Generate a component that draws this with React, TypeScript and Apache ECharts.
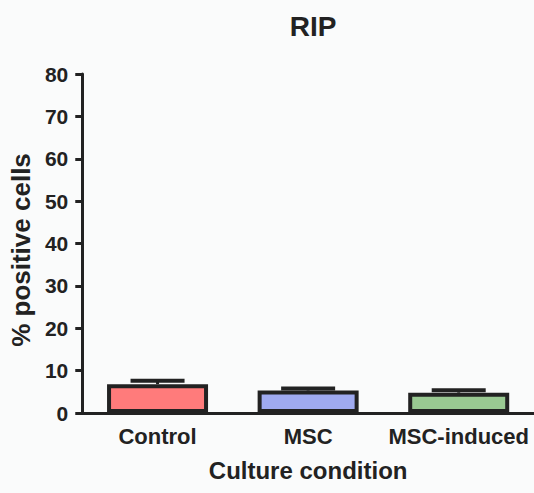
import React, { useEffect, useRef } from "react";
import * as echarts from "echarts";

const title = "RIP";
const categories = ["Control", "MSC", "MSC-induced"];
const means = [6.8, 5.3, 4.8];
const errors = [0.8, 0.5, 0.55];
const barColors = ["#ff7b7b", "#9faaf0", "#99c992"];
const yMin = 0;
const yMax = 80;
const yInterval = 10;
const xName = "Culture condition";
const yName = "% positive cells";

const FONT = "'Liberation Sans', Arial, Helvetica, sans-serif";
const INK = "#222222";

export default function App() {
  const ref = useRef<HTMLDivElement>(null);
  useEffect(() => {
    if (!ref.current) return;
    const chart = echarts.init(ref.current, undefined, { renderer: "svg" });
    chart.setOption({
      animation: false,
      backgroundColor: "#fafbfb",
      textStyle: { fontFamily: FONT },
      title: {
        text: title,
        left: 308,
        textAlign: "center",
        top: 7,
        textStyle: { fontFamily: FONT, fontSize: 28, fontWeight: "bold", color: INK },
      },
      grid: { left: 82, right: 0, top: 74, bottom: 80, containLabel: false },
      xAxis: {
        type: "category",
        data: categories,
        name: xName,
        nameLocation: "middle",
        nameGap: 45,
        nameTextStyle: { fontFamily: FONT, fontSize: 24, fontWeight: "bold", color: INK },
        axisLine: { lineStyle: { color: INK, width: 3 } },
        axisTick: { alignWithLabel: true, length: 11, lineStyle: { color: INK, width: 3 } },
        axisLabel: { margin: 12, fontFamily: FONT, fontSize: 22, fontWeight: "bold", color: INK, interval: 0 },
        splitLine: { show: false },
      },
      yAxis: {
        type: "value",
        min: yMin,
        max: yMax,
        interval: yInterval,
        name: yName,
        nameLocation: "middle",
        nameGap: 48,
        nameRotate: 90,
        nameTextStyle: {
          fontFamily: FONT,
          fontSize: 26,
          fontWeight: "bold",
          color: INK,
          padding: [0, 13, 0, 0],
        },
        axisLine: { show: true, lineStyle: { color: INK, width: 3 } },
        axisTick: { show: true, length: 7, lineStyle: { color: INK, width: 3 } },
        axisLabel: { margin: 14, fontFamily: FONT, fontSize: 21, fontWeight: "bold", color: INK },
        splitLine: { show: false },
      },
      series: [
        {
          type: "bar",
          barWidth: 101,
          data: means.map((v, i) => ({
            value: v,
            itemStyle: { color: barColors[i], borderColor: INK, borderWidth: 4 },
          })),
          z: 2,
        },
        {
          type: "custom",
          z: 3,
          data: categories.map((_, i) => [i, means[i], errors[i]]),
          renderItem: (params: any, api: any) => {
            const x = api.value(0);
            const m = api.value(1);
            const e = api.value(2);
            const p0 = api.coord([x, m]);
            const p1 = api.coord([x, m + e]);
            const half = 27;
            return {
              type: "group",
              children: [
                {
                  type: "line",
                  shape: { x1: p0[0], y1: p0[1], x2: p1[0], y2: p1[1] },
                  style: { stroke: INK, lineWidth: 3 },
                },
                {
                  type: "line",
                  shape: { x1: p1[0] - half, y1: p1[1], x2: p1[0] + half, y2: p1[1] },
                  style: { stroke: INK, lineWidth: 4 },
                },
              ],
            };
          },
        },
      ],
    });
    return () => chart.dispose();
  }, []);
  return (
    <div
      ref={ref}
      style={{ position: "fixed", left: 0, top: 0, width: 534, height: 493 }}
    />
  );
}
